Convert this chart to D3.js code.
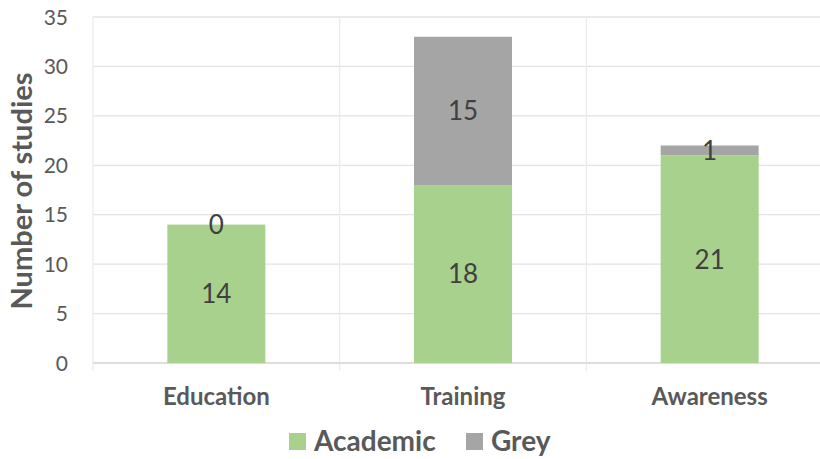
<!DOCTYPE html>
<html>
<head>
<meta charset="utf-8">
<script src="https://cdn.jsdelivr.net/npm/d3@7"></script>
<style>
  html, body { margin: 0; padding: 0; background: #fff; }
  svg { display: block; font-family: Lato, "Open Sans", "Liberation Sans", sans-serif; }
</style>
</head>
<body>
<svg id="chart" width="820" height="459"></svg>
<script>
// Study counts per intervention type, split by literature source
const categories = ["Education", "Training", "Awareness"];
const academic = [14, 18, 21];
const grey = [0, 15, 1];
const seriesNames = ["Academic", "Grey"];
const seriesColors = ["#a9d18e", "#a5a5a5"];
const yTicks = [0, 5, 10, 15, 20, 25, 30, 35];

const svg = d3.select("#chart");
const margin = { left: 93, top: 17, bottom: 363 };
const plotRight = 833;

const x = d3.scaleBand().domain(categories).range([margin.left, plotRight]).paddingInner(0).paddingOuter(0);
const y = d3.scaleLinear().domain([0, 35]).range([margin.bottom, margin.top]);

const rows = categories.map((c, i) => ({ cat: c, Academic: academic[i], Grey: grey[i] }));
const stacked = d3.stack().keys(seriesNames)(rows);

// horizontal gridlines
svg.append("g").selectAll("line").data(yTicks).join("line")
  .attr("x1", margin.left).attr("x2", plotRight)
  .attr("y1", d => y(d)).attr("y2", d => y(d))
  .attr("stroke", "#e3e3e3").attr("stroke-width", 1.3);

// vertical separators between categories
const bounds = categories.map(c => x(c)).concat([plotRight]);
svg.append("g").selectAll("line").data(bounds).join("line")
  .attr("x1", d => d).attr("x2", d => d)
  .attr("y1", margin.top).attr("y2", margin.bottom + 8)
  .attr("stroke", "#ececec").attr("stroke-width", 1.3);

// baseline
svg.append("line")
  .attr("x1", margin.left).attr("x2", plotRight)
  .attr("y1", y(0)).attr("y2", y(0))
  .attr("stroke", "#d9d9d9").attr("stroke-width", 1.3);

// stacked bars
const barW = 98;
const layers = svg.append("g").selectAll("g").data(stacked).join("g")
  .attr("fill", (d, i) => seriesColors[i]);
layers.selectAll("rect").data(d => d).join("rect")
  .attr("x", d => x(d.data.cat) + x.bandwidth() / 2 - barW / 2)
  .attr("width", barW)
  .attr("y", d => y(d[1]))
  .attr("height", d => y(d[0]) - y(d[1]));

// value labels centred in each segment
stacked.forEach(layer => {
  svg.append("g").selectAll("text").data(layer).join("text")
    .attr("x", d => x(d.data.cat) + x.bandwidth() / 2)
    .attr("y", d => y((d[0] + d[1]) / 2))
    .attr("dy", "0.36em")
    .attr("text-anchor", "middle")
    .attr("font-size", 26)
    .attr("fill", "#404040")
    .text(d => d[1] - d[0]);
});

// y tick labels
svg.append("g").selectAll("text").data(yTicks).join("text")
  .attr("x", 68).attr("y", d => y(d)).attr("dy", "0.36em")
  .attr("text-anchor", "end")
  .attr("font-size", 21).attr("fill", "#595959")
  .text(d => d);

// category labels
svg.append("g").selectAll("text").data(categories).join("text")
  .attr("x", d => x(d) + x.bandwidth() / 2).attr("y", 396).attr("dy", "0.36em")
  .attr("text-anchor", "middle")
  .attr("font-size", 24).attr("font-weight", "bold").attr("fill", "#595959")
  .text(d => d);

// y axis title
svg.append("text")
  .attr("transform", "translate(22,191) rotate(-90)")
  .attr("dy", "0.36em")
  .attr("text-anchor", "middle")
  .attr("font-size", 29).attr("font-weight", "bold").attr("fill", "#595959")
  .text("Number of studies");

// legend
const legendItems = [
  { name: seriesNames[0], color: seriesColors[0], x: 289 },
  { name: seriesNames[1], color: seriesColors[1], x: 466 }
];
const lg = svg.append("g").selectAll("g").data(legendItems).join("g")
  .attr("transform", d => `translate(${d.x},0)`);
lg.append("rect").attr("x", 0).attr("y", 433).attr("width", 17).attr("height", 17)
  .attr("fill", d => d.color);
lg.append("text").attr("x", 25).attr("y", 441).attr("dy", "0.36em")
  .attr("font-size", 28).attr("font-weight", "bold").attr("fill", "#595959")
  .text(d => d.name);
</script>
</body>
</html>
